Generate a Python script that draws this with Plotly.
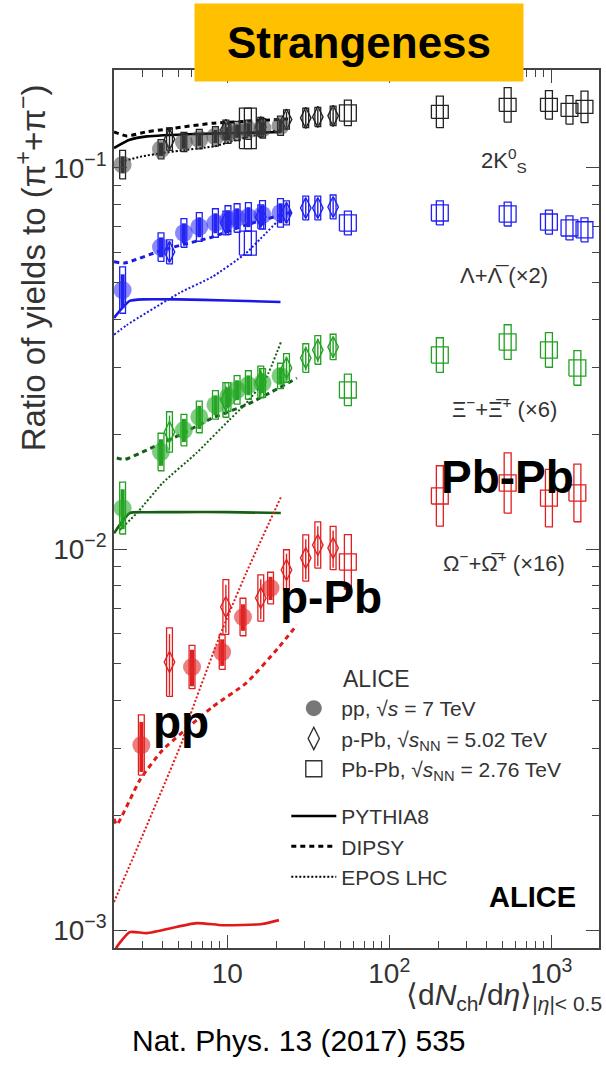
import plotly.graph_objects as go

# ---------------- data ----------------
# charged-particle multiplicity classes <dNch/deta>
pp_x = [2.26, 3.90, 5.40, 6.72, 8.45, 10.1, 11.5, 13.5, 16.5, 21.3]
pp_omega_x = [2.95, 6.06, 9.3, 12.5, 18.5]
ppb_x = [4.4, 9.8, 16.1, 23.2, 30.5, 36.2, 45.0]
pbpb_x = [13.4, 55.5, 205.0, 537.5, 966.0, 1294.0, 1601.0]
pbpb_xi_x = [55.5, 205.0, 537.5, 966.0, 1447.5]

# 2K0S / (pi+ + pi-)
k0s_pp = [0.102, 0.112, 0.117, 0.119, 0.121, 0.123, 0.125, 0.126, 0.127, 0.129]
k0s_pp_sys = [0.09, 0.06, 0.06, 0.06, 0.06, 0.06, 0.06, 0.06, 0.06, 0.06]
k0s_pp_stat = [0.05, 0.04, 0.04, 0.04, 0.04, 0.04, 0.04, 0.04, 0.04, 0.04]
k0s_ppb = [0.119, 0.126, 0.128, 0.134, 0.1353, 0.1361, 0.137]
k0s_ppb_sys = [0.07, 0.06, 0.06, 0.06, 0.06, 0.06, 0.06]
k0s_pbpb = [0.127, 0.1394, 0.1403, 0.1464, 0.1464, 0.1420, 0.1446]
k0s_pbpb_sys_w = [0.13, 0.05, 0.04, 0.04, 0.04, 0.04, 0.04]
k0s_pbpb_sys_t = [0.13, 0.08, 0.10, 0.11, 0.09, 0.09, 0.10]

# (Lambda + anti-Lambda) x 2
lam_pp = [0.0478, 0.0620, 0.0675, 0.0700, 0.0717, 0.0730, 0.0739, 0.0744, 0.0753, 0.0762]
lam_pp_sys = [0.15, 0.09, 0.09, 0.09, 0.09, 0.09, 0.09, 0.09, 0.09, 0.09]
lam_pp_stat = [0.10, 0.06, 0.06, 0.06, 0.06, 0.06, 0.06, 0.06, 0.06, 0.06]
lam_ppb = [0.0602, 0.0717, 0.0744, 0.0762, 0.0785, 0.0785, 0.0790]
lam_ppb_sys = [0.075, 0.075, 0.075, 0.075, 0.075, 0.075, 0.075]
lam_pbpb = [0.0635, 0.0717, 0.0762, 0.0757, 0.0721, 0.0696, 0.0688]
lam_pbpb_sys_w = [0.075, 0.05, 0.05, 0.05, 0.05, 0.05, 0.05]
lam_pbpb_sys_t = [0.075, 0.075, 0.075, 0.075, 0.075, 0.075, 0.075]

# (Xi- + anti-Xi+) x 6
xi_pp = [0.01281, 0.01797, 0.02052, 0.02221, 0.02388, 0.02506, 0.02615, 0.02694, 0.02727, 0.02845]
xi_pp_sys = [0.17, 0.12, 0.10, 0.10, 0.09, 0.09, 0.09, 0.09, 0.09, 0.08]
xi_pp_stat = [0.12, 0.08, 0.07, 0.07, 0.06, 0.06, 0.06, 0.06, 0.06, 0.05]
xi_ppb = [0.02028, 0.02461, 0.02744, 0.02986, 0.03171, 0.03329, 0.0339]
xi_ppb_sys = [0.13, 0.11, 0.10, 0.09, 0.09, 0.09, 0.08]
xi_pbpb = [0.02615, 0.03229, 0.03493, 0.03329, 0.02986]
xi_pbpb_sys_w = [0.05, 0.05, 0.05, 0.05, 0.05]
xi_pbpb_sys_t = [0.10, 0.11, 0.11, 0.11, 0.11]

# (Omega- + anti-Omega+) x 16
om_pp = [0.003059, 0.004902, 0.005366, 0.006631, 0.007901]
om_pp_sys = [0.20, 0.14, 0.11, 0.12, 0.10]
om_pp_stat = [0.15, 0.11, 0.08, 0.08, 0.07]
om_ppb = [0.005051, 0.007044, 0.007436, 0.00881, 0.009471, 0.010244, 0.01006]
om_ppb_sys = [0.23, 0.18, 0.15, 0.13, 0.15, 0.15, 0.14]
om_pbpb = [0.009244, 0.01378, 0.0149, 0.0136, 0.01403]
om_pbpb_sys_w = [0.05, 0.05, 0.05, 0.05, 0.05]
om_pbpb_sys_t = [0.18, 0.20, 0.20, 0.19, 0.19]

# model curves (pp)
k0s_pythia_x = [2.0, 2.5, 3.2, 6.5, 10.0, 15.0, 21.4]
k0s_pythia_y = [0.1128, 0.1185, 0.1210, 0.1228, 0.1233, 0.1238, 0.1243]
k0s_dipsy_x = [2.0, 2.4, 3.2, 4.0, 8.1, 15.0, 25.0]
k0s_dipsy_y = [0.1243, 0.1213, 0.1245, 0.1260, 0.1310, 0.1330, 0.1345]
k0s_epos_x = [2.2, 2.9, 4.0, 5.1, 8.4, 10.3, 14.0, 20.8]
k0s_epos_y = [0.1037, 0.1070, 0.1095, 0.1110, 0.1140, 0.1170, 0.1210, 0.1258]

lam_pythia_x = [2.0, 2.2, 2.5, 3.0, 5.0, 10.0, 21.3]
lam_pythia_y = [0.0404, 0.0425, 0.0448, 0.0452, 0.0452, 0.0449, 0.0445]
lam_dipsy_x = [2.0, 2.33, 3.99, 8.09, 13.08, 25.05]
lam_dipsy_y = [0.0567, 0.0563, 0.0609, 0.0659, 0.0709, 0.0766]
lam_epos_x = [2.0, 2.4, 5.08, 8.09, 13.08, 17.35, 21.74]
lam_epos_y = [0.0365, 0.0387, 0.0470, 0.0518, 0.0598, 0.0675, 0.0744]

xi_pythia_x = [2.0, 2.5, 3.2, 5.0, 10.0, 21.4]
xi_pythia_y = [0.0110, 0.01243, 0.01249, 0.0125, 0.0125, 0.01243]
xi_dipsy_x = [2.08, 2.33, 3.19, 5.08, 8.09, 13.08, 20.84, 26.88]
xi_dipsy_y = [0.01733, 0.01718, 0.01819, 0.01991, 0.02207, 0.02388, 0.02646, 0.02810]
xi_epos_x = [2.17, 2.77, 3.99, 6.45, 10.29, 13.08, 17.35, 21.44]
xi_epos_y = [0.01122, 0.01243, 0.0149, 0.01786, 0.02181, 0.02414, 0.0281, 0.03493]

om_pythia_x = [2.0, 2.08, 2.5, 3.19, 6.45, 9.32, 16.39, 20.84]
om_pythia_y = [0.00086, 0.000903, 0.000988, 0.000982, 0.001043, 0.00103, 0.001037, 0.001062]
om_dipsy_x = [2.0, 2.08, 2.885, 3.99, 8.09, 13.08, 20.84, 26.88]
om_dipsy_y = [0.00196, 0.00189, 0.002475, 0.002968, 0.003849, 0.004448, 0.00553, 0.006318]
om_epos_x = [2.0, 5.3, 5.85, 8.93, 13.08, 21.44]
om_epos_y = [0.001185, 0.003152, 0.003623, 0.005875, 0.00865, 0.01369]

# axis ticks
y_tickvals = [1e-3, 1e-2, 1e-1]
y_ticktext = ["10<sup>−3</sup>", "10<sup>−2</sup>", "10<sup>−1</sup>"]
x_tickvals = [10, 100, 1000]
x_ticktext = ["10", "10<sup>2</sup>", "10<sup>3</sup>"]

# ---------------- styling ----------------
FONT = "Liberation Sans, Arial, Helvetica, sans-serif"
NARROW = 0.018   # half width of pp / p-Pb boxes (decades)
WIDE = 0.052     # half width of Pb-Pb boxes (decades)
SLIM = 0.0215    # half width of tall Pb-Pb boxes (decades)

species = [
    dict(pp_x=pp_x, pp=k0s_pp, pp_sys=k0s_pp_sys, pp_stat=k0s_pp_stat,
         ppb=k0s_ppb, ppb_sys=k0s_ppb_sys,
         pb_x=pbpb_x, pb=k0s_pbpb, pb_w=k0s_pbpb_sys_w, pb_t=k0s_pbpb_sys_t,
         col="#222222", fill="rgba(70,70,70,0.55)",
         pyth=(k0s_pythia_x, k0s_pythia_y), dip=(k0s_dipsy_x, k0s_dipsy_y),
         epos=(k0s_epos_x, k0s_epos_y), mcol="#000000"),
    dict(pp_x=pp_x, pp=lam_pp, pp_sys=lam_pp_sys, pp_stat=lam_pp_stat,
         ppb=lam_ppb, ppb_sys=lam_ppb_sys,
         pb_x=pbpb_x, pb=lam_pbpb, pb_w=lam_pbpb_sys_w, pb_t=lam_pbpb_sys_t,
         col="#2020f0", fill="rgba(40,40,250,0.55)",
         pyth=(lam_pythia_x, lam_pythia_y), dip=(lam_dipsy_x, lam_dipsy_y),
         epos=(lam_epos_x, lam_epos_y), mcol="#1a1ae6"),
    dict(pp_x=pp_x, pp=xi_pp, pp_sys=xi_pp_sys, pp_stat=xi_pp_stat,
         ppb=xi_ppb, ppb_sys=xi_ppb_sys,
         pb_x=pbpb_xi_x, pb=xi_pbpb, pb_w=xi_pbpb_sys_w, pb_t=xi_pbpb_sys_t,
         col="#22a022", fill="rgba(40,170,40,0.6)",
         pyth=(xi_pythia_x, xi_pythia_y), dip=(xi_dipsy_x, xi_dipsy_y),
         epos=(xi_epos_x, xi_epos_y), mcol="#145f14"),
    dict(pp_x=pp_omega_x, pp=om_pp, pp_sys=om_pp_sys, pp_stat=om_pp_stat,
         ppb=om_ppb, ppb_sys=om_ppb_sys,
         pb_x=pbpb_xi_x, pb=om_pbpb, pb_w=om_pbpb_sys_w, pb_t=om_pbpb_sys_t,
         col="#e02020", fill="rgba(225,40,40,0.6)",
         pyth=(om_pythia_x, om_pythia_y), dip=(om_dipsy_x, om_dipsy_y),
         epos=(om_epos_x, om_epos_y), mcol="#e01a1a"),
]


def boxes(xs, ys, rel, half):
    """Open rectangles around each point, +-rel in y, +-half decades in x."""
    bx, by = [], []
    f = 10 ** half
    for x, y, r in zip(xs, ys, rel):
        lo, hi = y / (1 + r), y * (1 + r)
        bx += [x / f, x * f, x * f, x / f, x / f, None]
        by += [lo, lo, hi, hi, lo, None]
    return bx, by


fig = go.Figure()

for s in species:
    c = s["col"]
    # models
    fig.add_trace(go.Scatter(x=s["pyth"][0], y=s["pyth"][1], mode="lines",
                             line=dict(color=s["mcol"], width=2.6, shape="spline", smoothing=0.5),
                             showlegend=False, hoverinfo="skip"))
    fig.add_trace(go.Scatter(x=s["dip"][0], y=s["dip"][1], mode="lines",
                             line=dict(color=s["mcol"], width=3, dash="5px,4px",
                                       shape="spline", smoothing=0.5),
                             showlegend=False, hoverinfo="skip"))
    fig.add_trace(go.Scatter(x=s["epos"][0], y=s["epos"][1], mode="lines",
                             line=dict(color=s["mcol"], width=2, dash="2px,2px",
                                       shape="spline", smoothing=0.5),
                             showlegend=False, hoverinfo="skip"))
    # Pb-Pb: wide and slim systematic boxes
    bx, by = boxes(s["pb_x"], s["pb"], s["pb_w"], WIDE)
    fig.add_trace(go.Scatter(x=bx, y=by, mode="lines", line=dict(color=c, width=1.3),
                             showlegend=False, hoverinfo="skip"))
    bx, by = boxes(s["pb_x"], s["pb"], s["pb_t"], SLIM)
    fig.add_trace(go.Scatter(x=bx, y=by, mode="lines", line=dict(color=c, width=1.3),
                             showlegend=False, hoverinfo="skip"))
    # p-Pb
    bx, by = boxes(ppb_x, s["ppb"], s["ppb_sys"], NARROW)
    fig.add_trace(go.Scatter(x=bx, y=by, mode="lines", line=dict(color=c, width=1.3),
                             showlegend=False, hoverinfo="skip"))
    fig.add_trace(go.Scatter(
        x=ppb_x, y=s["ppb"], mode="markers",
        marker=dict(symbol="diamond-tall-open", size=15, color=c, line=dict(width=1.4)),
        error_y=dict(type="data", array=[y * r * 0.8 for y, r in zip(s["ppb"], s["ppb_sys"])],
                     color=c, thickness=1.4, width=0),
        showlegend=False, hoverinfo="skip"))
    # pp
    bx, by = boxes(s["pp_x"], s["pp"], s["pp_sys"], NARROW)
    fig.add_trace(go.Scatter(x=bx, y=by, mode="lines", line=dict(color=c, width=1.3),
                             showlegend=False, hoverinfo="skip"))
    fig.add_trace(go.Scatter(
        x=s["pp_x"], y=s["pp"], mode="markers",
        marker=dict(symbol="circle", size=18, color=s["fill"], line=dict(width=0)),
        error_y=dict(type="data", array=[y * r for y, r in zip(s["pp"], s["pp_stat"])],
                     color=c, thickness=4, width=0),
        showlegend=False, hoverinfo="skip"))

# legend entries
fig.add_trace(go.Scatter(x=[None], y=[None], mode="markers", legendgroup="data",
                         marker=dict(symbol="circle", size=16, color="#777777"),
                         name="pp, √<i>s</i> = 7 TeV"))
fig.add_trace(go.Scatter(x=[None], y=[None], mode="markers", legendgroup="data",
                         marker=dict(symbol="diamond-tall-open", size=16, color="#333333",
                                     line=dict(width=1.4)),
                         name="p-Pb, √<i>s</i><sub>NN</sub> = 5.02 TeV"))
fig.add_trace(go.Scatter(x=[None], y=[None], mode="markers", legendgroup="data",
                         marker=dict(symbol="square-open", size=17, color="#333333",
                                     line=dict(width=1.4)),
                         name="Pb-Pb, √<i>s</i><sub>NN</sub> = 2.76 TeV"))
fig.add_trace(go.Scatter(x=[None], y=[None], mode="lines", legendgroup="models",
                         line=dict(color="#000000", width=2.6), name="PYTHIA8"))
fig.add_trace(go.Scatter(x=[None], y=[None], mode="lines", legendgroup="models",
                         line=dict(color="#000000", width=3, dash="5px,4px"), name="DIPSY"))
fig.add_trace(go.Scatter(x=[None], y=[None], mode="lines", legendgroup="models",
                         line=dict(color="#000000", width=2, dash="2px,2px"), name="EPOS LHC"))

# ---------------- layout ----------------
L, R, T, B = 114, 5, 70, 117
W, H = 606, 1065
PW, PH = W - L - R, H - T - B


def px(x):
    return (x - L) / PW


def py(y):
    return (H - B - y) / PH


axis_common = dict(
    type="log", showline=True, linecolor="#444444", linewidth=1.5, mirror="allticks",
    ticks="inside", ticklen=13, tickwidth=1.3, tickcolor="#444444",
    showgrid=False, zeroline=False,
    tickfont=dict(family=FONT, size=28, color="#333333"),
)

minor_y = [m * 10.0 ** e for e in (-4, -3, -2, -1) for m in range(2, 10)]
minor_x = [m * 10.0 ** e for e in (0, 1, 2, 3) for m in range(2, 10)]

fig.update_layout(
    width=W, height=H,
    margin=dict(l=L, r=R, t=T, b=B),
    paper_bgcolor="white", plot_bgcolor="white",
    font=dict(family=FONT, color="#333333"),
    xaxis=dict(axis_common, range=[0.301, 3.294], tickvals=x_tickvals, ticktext=x_ticktext,
               minor=dict(tickvals=minor_x, ticks="inside", ticklen=7, tickcolor="#444444")),
    yaxis=dict(axis_common, range=[-3.047, -0.743], tickvals=y_tickvals, ticktext=y_ticktext,
               minor=dict(tickvals=minor_y, ticks="inside", ticklen=7, tickcolor="#444444")),
    showlegend=True,
    legend=dict(x=px(287), y=py(688), xanchor="left", yanchor="top",
                bgcolor="rgba(0,0,0,0)", font=dict(family=FONT, size=21, color="#333333"),
                itemwidth=45, tracegroupgap=17, traceorder="grouped"),
)

annotations = [
    dict(text="<b>Strangeness</b>", x=px(360), y=py(42), font=dict(size=44, color="black"),
         bgcolor="#FFC000", width=328, height=77, borderpad=0),
    dict(text="Ratio of yields to (π<sup>+</sup>+π<sup>−</sup>)", x=px(31), y=py(268),
         textangle=-90, font=dict(size=33, color="#333333")),
    dict(text="⟨d<i>N</i><sub>ch</sub>/d<i>η</i>⟩<sub>|<i>η</i>|< 0.5</sub>", x=px(606), y=py(997),
         xanchor="right", font=dict(size=30, color="#333333")),
    dict(text="Nat. Phys. 13 (2017) 535", x=px(300), y=py(1040), font=dict(size=30, color="black")),
    dict(text="<b>Pb-Pb</b>", x=px(509), y=py(477), font=dict(size=46, color="black")),
    dict(text="<b>p-Pb</b>", x=px(332), y=py(597), font=dict(size=46, color="black")),
    dict(text="<b>pp</b>", x=px(181), y=py(722), font=dict(size=46, color="black")),
    dict(text="<b>ALICE</b>", x=px(534), y=py(897), font=dict(size=29, color="black")),
    dict(text="ALICE", x=px(342), y=py(679), xanchor="left", font=dict(size=23, color="#333333")),
    dict(text="2K<sup>0</sup><sub>S</sub>", x=px(506), y=py(160), font=dict(size=22, color="#333333")),
    dict(text="Λ+Λ̅ (×2)", x=px(506), y=py(275), font=dict(size=22, color="#333333")),
    dict(text="Ξ<sup>−</sup>+Ξ̅<sup>+</sup> (×6)", x=px(506), y=py(408), font=dict(size=22, color="#333333")),
    dict(text="Ω<sup>−</sup>+Ω̅<sup>+</sup> (×16)", x=px(506), y=py(562), font=dict(size=22, color="#333333")),
]
for a in annotations:
    a.setdefault("xanchor", "center")
    a.setdefault("yanchor", "middle")
    a.update(xref="paper", yref="paper", showarrow=False)
    a["font"].setdefault("family", FONT)
fig.update_layout(annotations=annotations)

fig.write_html("out.html")
